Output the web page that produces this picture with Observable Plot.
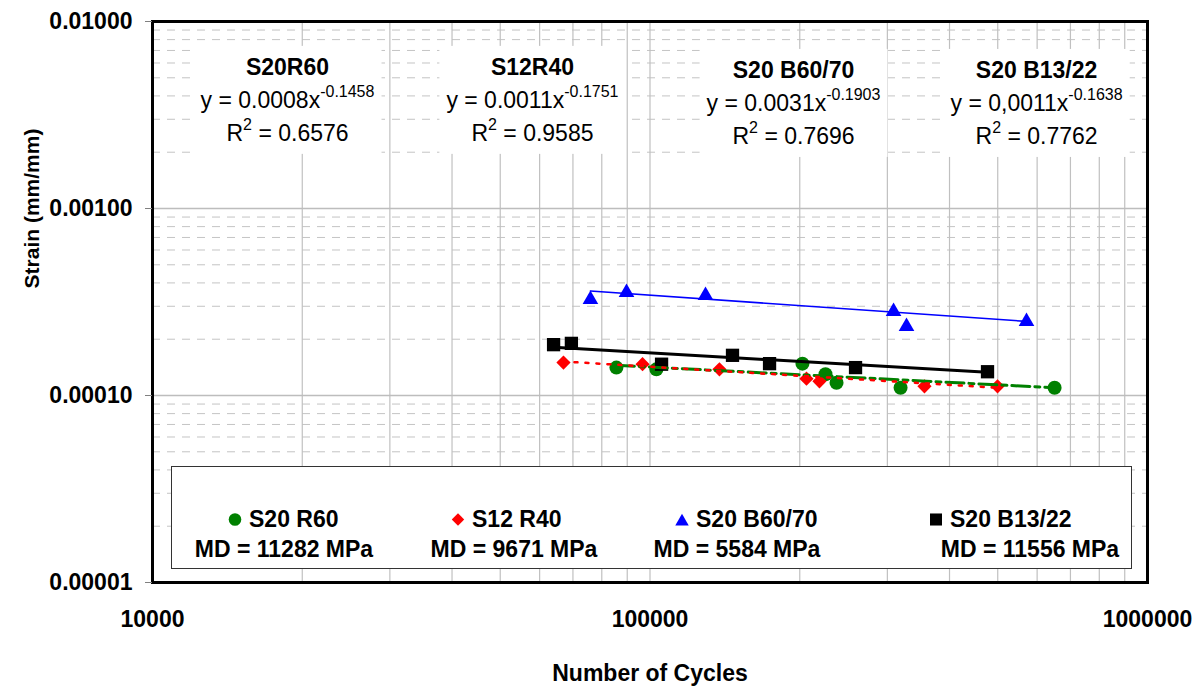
<!DOCTYPE html>
<html><head><meta charset="utf-8">
<script src="https://cdn.jsdelivr.net/npm/d3@7"></script>
<script src="https://cdn.jsdelivr.net/npm/@observablehq/plot@0.6"></script>
<style>
html,body{margin:0;padding:0;background:#fff;}
#chart{position:relative;width:1197px;height:689px;}
</style>
</head><body><div id="chart"></div>
<script>
// ---------- data ----------
const seriesNames = ["S20 R60", "S12 R40", "S20 B60/70", "S20 B13/22"];
const mdLabels = ["MD = 11282 MPa", "MD = 9671 MPa", "MD = 5584 MPa", "MD = 11556 MPa"];

const r60Cycles = [85600, 103000, 202500, 225300, 237100, 318900, 650500];
const r60Strain = [0.000141, 0.000138, 0.000148, 0.000130, 0.000117, 0.000110, 0.000110];
const r40Cycles = [67000, 96600, 137900, 206300, 219100, 356200, 499500];
const r40Strain = [0.000150, 0.000147, 0.000138, 0.000123, 0.000119, 0.000112, 0.000112];
const b6070Cycles = [75900, 89700, 129300, 308700, 327800, 571200];
const b6070Strain = [0.000334, 0.000364, 0.000351, 0.000288, 0.000240, 0.000255];
const b1322Cycles = [64000, 69500, 105500, 146500, 173900, 258900, 476900];
const b1322Strain = [0.000187, 0.000190, 0.000147, 0.000164, 0.000148, 0.000141, 0.000134];

// power-law trend lines: end points as drawn
const r60TrendCycles = [85600, 650500];
const r60TrendStrain = [0.000145, 0.000110];
const r40TrendCycles = [67000, 499500];
const r40TrendStrain = [0.000152, 0.000110];
const b6070TrendCycles = [75900, 571200];
const b6070TrendStrain = [0.000362, 0.000249];
const b1322TrendCycles = [64000, 476900];
const b1322TrendStrain = [0.000181, 0.000133];

// trend-line annotations
const annTitles = ["S20R60", "S12R40", "S20 B60/70", "S20 B13/22"];
const annCoef = ["y = 0.0008x", "y = 0.0011x", "y = 0.0031x", "y = 0,0011x"];
const annExp = ["-0.1458", "-0.1751", "-0.1903", "-0.1638"];
const annR2 = ["0.6576", "0.9585", "0.7696", "0.7762"];
const annCycles = [18680, 58040, 194300, 598400];
const annStrain = [0.00378, 0.00378, 0.00364, 0.00364];

const xTicks = [10000, 100000, 1000000];
const yTicks = [0.01, 0.001, 0.0001, 0.00001];
const xLabel = "Number of Cycles";
const yLabel = "Strain (mm/mm)";

// ---------- build tables ----------
const zip = (xs, ys) => xs.map((x, i) => ({x, y: ys[i]}));
const r60 = zip(r60Cycles, r60Strain), r40 = zip(r40Cycles, r40Strain);
const b6070 = zip(b6070Cycles, b6070Strain), b1322 = zip(b1322Cycles, b1322Strain);
const ann = annTitles.map((t, i) => ({
  x: annCycles[i], y: annStrain[i], title: t,
  eq: annCoef[i] + "^" + annExp[i], r2: "R^2^ = " + annR2[i]
}));

// grid positions (1..9 x each decade)
const xGrid = [];
for (let d = 1e4; d < 1e6; d *= 10) for (let k = 1; k <= 9; k++) xGrid.push(k * d);
xGrid.push(1e6);
const yMajor = [0.001, 0.0001];
const yMinor = [];
for (let d = 1e-5; d < 1e-2; d *= 10) for (let k = 2; k <= 9; k++) yMinor.push(k * d);

const FONT = "'Liberation Sans', Arial, Helvetica, sans-serif";
const COLORS = ["#008000", "#ff0000", "#0000ff", "#000000"];
const SYM = ["circle", "diamond2", "triangle", "square"];
const SYM_R = [7, 6.4, 5.8, 7.5];

const plot = Plot.plot({
  width: 1197, height: 689,
  marginLeft: 152, marginRight: 50, marginTop: 21, marginBottom: 107,
  style: {fontFamily: FONT, background: "white", color: "black"},
  x: {type: "log", domain: [1e4, 1e6]},
  y: {type: "log", domain: [1e-5, 1e-2]},
  marks: [
    Plot.ruleY(yMinor, {stroke: "#c4c4c4", strokeWidth: 1, strokeDasharray: "8,7"}),
    Plot.ruleX(xGrid, {stroke: "#c0c0c0", strokeWidth: 1.2}),
    Plot.ruleY(yMajor, {stroke: "#bdbdbd", strokeWidth: 1.5}),
    Plot.dot(r60, {x: "x", y: "y", r: SYM_R[0], symbol: SYM[0], fill: COLORS[0]}),
    Plot.dot(r40, {x: "x", y: "y", r: SYM_R[1], symbol: SYM[1], fill: COLORS[1]}),
    Plot.dot(b6070, {x: "x", y: "y", r: SYM_R[2], symbol: SYM[2], fill: COLORS[2], dy: 2}),
    Plot.dot(b1322, {x: "x", y: "y", r: SYM_R[3], symbol: SYM[3], fill: COLORS[3]}),
    Plot.line(zip(r60TrendCycles, r60TrendStrain), {x: "x", y: "y", stroke: COLORS[0], strokeWidth: 3, strokeDasharray: "18,5,5,5"}),
    Plot.line(zip(r40TrendCycles, r40TrendStrain), {x: "x", y: "y", stroke: COLORS[1], strokeWidth: 2.5, strokeDasharray: "3,8"}),
    Plot.line(zip(b6070TrendCycles, b6070TrendStrain), {x: "x", y: "y", stroke: COLORS[2], strokeWidth: 1.6}),
    Plot.line(zip(b1322TrendCycles, b1322TrendStrain), {x: "x", y: "y", stroke: COLORS[3], strokeWidth: 3}),
    Plot.frame({stroke: "black", strokeWidth: 3}),
    Plot.axisY({ticks: yTicks, tickFormat: d => d.toFixed(5), tickSize: 7, tickPadding: 13,
      stroke: "#808080", fill: "black", fontSize: 23, fontWeight: "bold", label: null}),
    Plot.axisX({ticks: xTicks, tickFormat: d => String(d), tickSize: 0, tickPadding: 28,
      fill: "black", fontSize: 23, fontWeight: "bold", label: null}),
    Plot.text(ann, {x: "x", y: "y", text: "title", dy: -33, fontSize: 23, fontWeight: "bold", fill: "black"}),
    Plot.text(ann, {x: "x", y: "y", text: "eq", fontSize: 23, fill: "black"}),
    Plot.text(ann, {x: "x", y: "y", text: "r2", dy: 33, fontSize: 23, fill: "black"}),
    Plot.text([xLabel], {frameAnchor: "bottom", lineAnchor: "middle", textAnchor: "middle", dy: 91, fontSize: 23, fontWeight: "bold", fill: "black"}),
    Plot.text([yLabel], {frameAnchor: "left", y: () => 0.001, textAnchor: "middle", lineAnchor: "middle", dx: -120, rotate: -90, fontSize: 21, fontWeight: "bold", fill: "black"})
  ]
});
document.getElementById("chart").appendChild(plot);

// ---------- superscripts ----------
const NS = "http://www.w3.org/2000/svg";
plot.querySelectorAll("text").forEach(t => {
  const s = t.textContent;
  if (!s.includes("^")) return;
  const parts = s.split("^");
  t.textContent = "";
  parts.forEach((p, k) => {
    if (!p) return;
    const ts = document.createElementNS(NS, "tspan");
    ts.textContent = p;
    if (k % 2 === 1) { ts.setAttribute("font-size", "16"); ts.setAttribute("dy", "-11"); }
    else if (k > 0) ts.setAttribute("dy", "11");
    t.appendChild(ts);
  });
});

// ---------- white boxes behind annotations ----------
const svgRect = plot.getBoundingClientRect();
const allText = Array.from(plot.querySelectorAll("text"));
let firstGroup = null;
const boxes = ann.map(a => {
  const targets = [a.title, a.eq.replace(/\^/g, ""), a.r2.replace(/\^/g, "")];
  const els = allText.filter(t => targets.includes(t.textContent));
  if (!firstGroup && els.length) firstGroup = els[0].parentNode;
  let x0 = Infinity, y0 = Infinity, x1 = -Infinity, y1 = -Infinity;
  els.forEach(e => { const r = e.getBoundingClientRect();
    x0 = Math.min(x0, r.left); y0 = Math.min(y0, r.top); x1 = Math.max(x1, r.right); y1 = Math.max(y1, r.bottom); });
  return {x: x0 - svgRect.left - 7, y: y0 - svgRect.top - 8, w: x1 - x0 + 14, h: y1 - y0 + 16};
});
const boxG = document.createElementNS(NS, "g");
boxes.forEach(b => {
  const r = document.createElementNS(NS, "rect");
  r.setAttribute("x", b.x); r.setAttribute("y", b.y); r.setAttribute("width", b.w); r.setAttribute("height", b.h);
  r.setAttribute("fill", "white");
  boxG.appendChild(r);
});
if (firstGroup) firstGroup.parentNode.insertBefore(boxG, firstGroup);

// ---------- legend ----------
const svg = d3.select(plot);
const lg = svg.append("g").attr("font-family", FONT).attr("font-weight", "bold").attr("font-size", 23)
  .attr("fill", "black");
lg.append("rect").attr("x", 171.5).attr("y", 466.5).attr("width", 960).attr("height", 102)
  .attr("fill", "white").attr("stroke", "#333").attr("stroke-width", 1);
const symTypes = [d3.symbolCircle, d3.symbolDiamond2, d3.symbolTriangle, d3.symbolSquare];
const legR = [6.3, 5.6, 5.0, 6.8];
const markerX = [235, 458, 682, 936];
const labelX = [249, 472, 696, 950];
const mdX = [284, 514, 737, 1030];
seriesNames.forEach((name, i) => {
  lg.append("path").attr("d", d3.symbol(symTypes[i], Math.PI * legR[i] * legR[i])())
    .attr("transform", `translate(${markerX[i]},${i === 2 ? 521.5 : 519.5})`).attr("fill", COLORS[i]);
  lg.append("text").attr("x", labelX[i]).attr("y", 527).attr("text-anchor", "start").text(name);
  lg.append("text").attr("x", mdX[i]).attr("y", 557).attr("text-anchor", "middle").text(mdLabels[i]);
});
</script>
</body></html>
